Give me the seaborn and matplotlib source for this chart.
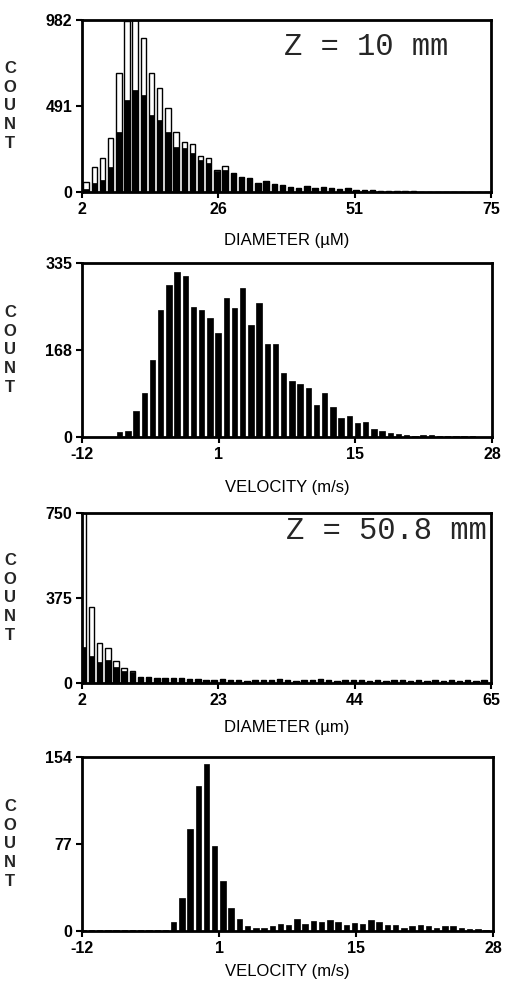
import numpy as np
import pandas as pd
import matplotlib
matplotlib.use('Agg')
import matplotlib.pyplot as plt
import seaborn as sns

# ---------------- data (counts per bin) ----------------
# Panel 1: Z = 10 mm, diameter histogram (white = all, black = overlay subset)
dia10_total = [55, 145, 196, 310, 682, 975, 982, 878, 678, 592,
               478, 345, 287, 274, 206, 193, 126, 149, 110, 84,
               78, 50, 63, 44, 40, 27, 21, 34, 21, 30,
               21, 15, 21, 11, 11, 11, 8, 5, 8, 3,
               8, 2, 0, 0, 0, 0, 0, 0, 0, 0]
dia10_black = [15, 50, 69, 145, 345, 526, 583, 554, 440, 411,
               345, 259, 250, 221, 183, 164, 118, 125, 110, 84,
               78, 50, 63, 44, 40, 27, 21, 34, 21, 30,
               21, 15, 21, 11, 11, 11, 8, 5, 8, 3,
               8, 2, 0, 0, 0, 0, 0, 0, 0, 0]
# Panel 2: Z = 10 mm, velocity histogram
vel10 = [0, 0, 0, 0, 9, 12, 50, 84, 148, 245,
         293, 318, 310, 251, 245, 229, 200, 267, 248, 286,
         216, 258, 180, 180, 123, 107, 103, 94, 62, 84,
         58, 36, 41, 26, 28, 15, 12, 8, 5, 4,
         2, 3, 4, 2, 1, 1, 1, 1, 0, 0]
# Panel 3: Z = 50.8 mm, diameter histogram
dia50_total = [750, 334, 175, 153, 97, 65, 53, 28, 25, 22,
               24, 21, 22, 18, 16, 14, 12, 16, 12, 14,
               10, 12, 14, 12, 16, 12, 10, 14, 12, 16,
               14, 10, 12, 14, 12, 10, 12, 8, 14, 12,
               10, 12, 10, 14, 10, 12, 8, 12, 10, 14]
dia50_black = [160, 120, 94, 101, 72, 55, 48, 28, 25, 22,
               24, 21, 22, 18, 16, 14, 12, 16, 12, 14,
               10, 12, 14, 12, 16, 12, 10, 14, 12, 16,
               14, 10, 12, 14, 12, 10, 12, 8, 14, 12,
               10, 12, 10, 14, 10, 12, 8, 12, 10, 14]
# Panel 4: Z = 50.8 mm, velocity histogram
vel50 = [1, 1, 1, 1, 1, 1, 1, 1, 1, 1,
         1, 8, 29, 90, 128, 148, 75, 44, 20, 11,
         4, 3, 3, 4, 6, 5, 11, 6, 9, 8,
         10, 8, 5, 7, 6, 10, 8, 5, 5, 3,
         4, 5, 4, 3, 4, 4, 3, 2, 2, 1]

# bin layout (first bin centre, bin width)
dia10_bins = (2.73, 1.46)
vel10_bins = (-11.52, 0.8)
dia50_bins = (2.2, 1.26)
vel50_bins = (-11.88, 0.8)

# axis limits and tick labels
dia10_xlim, dia10_ymax = (2, 75), 982
vel10_xlim, vel10_ymax = (-12, 28), 335
dia50_xlim, dia50_ymax = (2, 65), 750
vel50_xlim, vel50_ymax = (-12, 28), 154
dia10_xt = ["2", "26", "51", "75"]
vel_xt = ["-12", "1", "15", "28"]
dia50_xt = ["2", "23", "44", "65"]
dia10_yt = ["0", "491", "982"]
vel10_yt = ["0", "168", "335"]
dia50_yt = ["0", "375", "750"]
vel50_yt = ["0", "77", "154"]

# ---------------- drawing ----------------
sns.set_theme(style='ticks')
plt.rcParams['font.family'] = ['Liberation Sans', 'DejaVu Sans']

W, H = 507, 982
fig = plt.figure(figsize=(W / 100, H / 100), dpi=100)


def rect(l, t, r, b):
    return [l / W, 1 - b / H, (r - l) / W, (b - t) / H]


def panel(box, bins, series, xlim, ymax, xtl, ytl, xlabel, labelpad,
          note=None, note_xy=None):
    ax = fig.add_axes(box)
    start, width = bins
    n = len(series[0][0])
    centers = start + width * np.arange(n)
    edges = [float(e) for e in np.append(centers - width / 2,
                                         centers[-1] + width / 2)]
    for counts, face, lw in series:
        df = pd.DataFrame({'x': centers, 'w': np.asarray(counts, float)})
        sns.histplot(data=df, x='x', weights='w', bins=edges, shrink=0.66,
                     color=face, edgecolor='black', linewidth=lw, alpha=1,
                     ax=ax)
    ax.set_xlim(*xlim)
    ax.set_ylim(0, ymax)
    ax.set_xticks(np.linspace(xlim[0], xlim[1], 4))
    ax.set_xticklabels(xtl, fontsize=11.5, fontweight='bold')
    ax.set_yticks(np.linspace(0, ymax, 3))
    ax.set_yticklabels(ytl, fontsize=11.5, fontweight='bold')
    ax.set_ylabel('')
    ax.set_xlabel(xlabel, fontsize=12, labelpad=labelpad, color='black')
    for s in ax.spines.values():
        s.set_linewidth(2)
        s.set_color('black')
        s.set_zorder(5)
    ax.tick_params(axis='both', direction='out', length=4, width=1.5,
                   pad=3, colors='black', top=False, right=False)
    ax.set_facecolor('white')
    # vertical stacked COUNT label
    pos = ax.get_position()
    fig.text(10 / W, pos.y0 + pos.height / 2, "C\nO\nU\nN\nT",
             ha='center', va='center', fontsize=12, fontweight='bold',
             linespacing=1.3)
    if note:
        ax.text(note_xy[0], note_xy[1], note, transform=ax.transAxes,
                ha='right', va='center', fontsize=22,
                family='Liberation Mono')
    return ax


panel(rect(82, 20, 491, 192), dia10_bins,
      [(dia10_total, 'white', 1.0), (dia10_black, 'black', 0.5)],
      dia10_xlim, dia10_ymax, dia10_xt, dia10_yt, "DIAMETER (\u00b5M)", 12,
      note="Z = 10 mm", note_xy=(0.895, 0.843))

panel(rect(82, 263, 492, 437), vel10_bins,
      [(vel10, 'black', 0.5)],
      vel10_xlim, vel10_ymax, vel_xt, vel10_yt, "VELOCITY (m/s)", 13)

panel(rect(82, 513, 491, 683), dia50_bins,
      [(dia50_total, 'white', 1.0), (dia50_black, 'black', 0.5)],
      dia50_xlim, dia50_ymax, dia50_xt, dia50_yt, "DIAMETER (\u00b5m)", 9,
      note="Z = 50.8 mm", note_xy=(0.99, 0.894))

panel(rect(82, 757, 493, 931), vel50_bins,
      [(vel50, 'black', 0.5)],
      vel50_xlim, vel50_ymax, vel_xt, vel50_yt, "VELOCITY (m/s)", 6)

fig.savefig('out.png', dpi=100, facecolor='white')
